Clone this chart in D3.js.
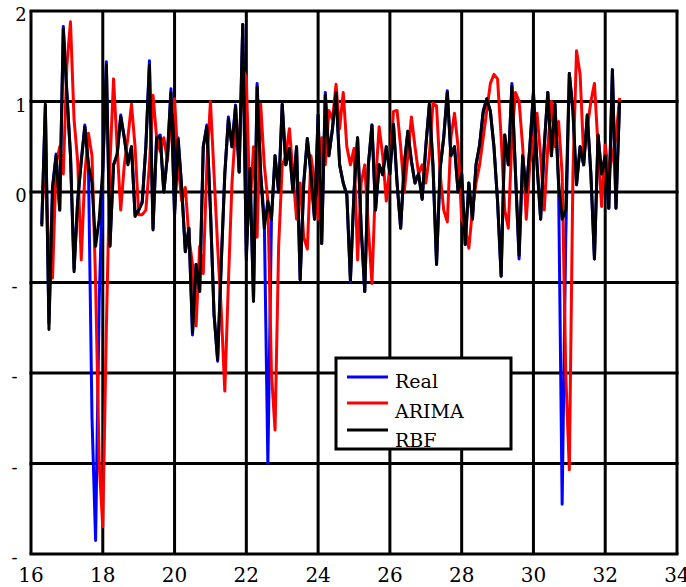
<!DOCTYPE html>
<html>
  <head>
    <meta charset="utf-8" />
    <script src="https://d3js.org/d3.v7.min.js" charset="utf-8"></script>
  </head>
  <body style="margin:0">
    <svg id="canvas" width="686" height="587"></svg>
    <script>
      // sample times: 16.3 .. 32.4, every 0.1
      var tStart = 16.3, tStep = 0.1, nPoints = 162;

      // measured values
      var realValues = [
        -0.35, 0.95, -1.45, 0.05, 0.42, -0.2, 1.83, 1.1, 0.42, -0.85,
        -0.1, 0.35, 0.74, 0.3, -2.5, -3.85, -1.2, 0.2, 1.44, -0.6,
        0.3, 0.4, 0.85, 0.6, 0.33, 0.5, -0.25, -0.2, -0.1, 0.5,
        1.45, -0.4, 0.6, 0.63, 0.0, 0.4, 1.14, -0.25, 0.6, 0.04,
        -0.66, -0.4, -1.58, -0.8, -1.1, 0.5, 0.74, -0.2, -1.35, -1.87,
        -0.8, 0.2, 0.83, 0.5, 0.96, 0.22, 1.85, -0.7, 0.26, -1.2,
        1.2, 0.2, -0.3, -3.0, -0.3, 0.4, 0.0, 0.97, 0.3, 0.48,
        0.0, 0.5, -0.97, 0.1, 0.59, 0.2, -0.3, 0.85, -0.57, 1.1,
        0.4, 0.7, 1.1, 0.3, 0.1, -0.03, -0.99, 0.0, 0.6, -0.4,
        -1.1, 0.3, 0.74, -0.2, 0.3, 0.19, 0.5, 0.2, 0.75, 0.1,
        -0.4, 0.3, 0.67, 0.34, 0.1, 0.2, -0.08, 0.5, 0.97, 0.3,
        -0.8, 0.26, 0.6, 1.12, 0.4, 0.5, 0.0, 0.2, -0.58, 0.1,
        -0.3, 0.3, 0.52, 0.9, 1.03, 0.89, 0.5, -0.1, -0.93, 0.63,
        0.3, 1.2, 0.2, -0.74, 0.4, 0.0, 0.5, 1.1, 0.3, -0.3,
        0.5, 1.1, 0.4, 0.97, 0.1, -3.45, -0.5, 1.31, 0.9, 0.08,
        0.5, 0.3, 0.85, 0.2, -0.74, 0.63, 0.2, 0.4, -0.18, 1.35,
        -0.18, 1.0
      ];

      // ARIMA forecast
      var arimaValues = [
        0.05, 0.1, -0.6, -0.95, 0.3, 0.5, 0.2, 1.4, 1.88, 0.8,
        0.34, -0.75, 0.2, 0.65, 0.4, -1.0, -3.0, -3.7, -1.5, 0.3,
        1.25, 0.5, -0.2, 0.3, 0.6, 0.97, 0.5, -0.25, -0.25, -0.2,
        0.3, 1.07, 0.6, 0.45, 0.6, 0.35, 0.8, 1.03, 0.3, -0.1,
        0.05, -0.5, -0.8, -1.48, -0.6, -0.9, 0.3, 1.0, 0.2, -0.6,
        -1.3, -2.2, -1.0, 0.1, 0.7, 0.5, 1.36, 1.27, -0.2, 0.5,
        -0.5, 0.97, 0.3, -0.1, -2.0, -2.63, -0.6, 0.3, 0.4, 0.7,
        0.2, -0.3, 0.1, -0.5, -0.63, 0.4, 0.1, -0.3, 0.6, 0.3,
        0.9, 0.8, 1.19, 0.7, 1.1, 0.5, 0.3, 0.48, -0.75, 0.1,
        0.3, -0.4, -1.01, 0.1, 0.72, 0.4, -0.1, 0.3, 0.89, 0.9,
        0.5, 0.0, 0.4, 0.83, 0.5, 0.2, 0.3, 0.1, 0.4, 0.98,
        0.95, 0.2, -0.2, -0.33, 0.6, 0.87, 0.5, -0.3, -0.4, -0.62,
        -0.2, 0.1, 0.3, 0.6, 0.9, 1.2, 1.3, 1.25, 0.6, -0.2,
        -0.4, 0.6, 1.1, 1.0, 0.5, -0.3, 0.3, 0.6, 0.87, 0.4,
        -0.2, 0.5, 1.0, 0.5, 0.78, 0.2, -2.0, -3.07, 0.2, 1.56,
        1.3, 0.4, 0.7, 1.0, 1.2, 0.5, -0.16, 0.52, 0.2, 0.4,
        0.6, 1.04
      ];

      // RBF network forecast
      var rbfValues = [
        -0.38, 0.97, -1.52, 0.05, 0.4, -0.2, 1.8, 1.08, 0.4, -0.88,
        -0.1, 0.33, 0.72, 0.3, 0.1, -0.6, -0.3, 0.25, 1.4, -0.6,
        0.3, 0.42, 0.83, 0.6, 0.3, 0.5, -0.27, -0.2, -0.12, 0.5,
        1.4, -0.42, 0.6, 0.6, 0.0, 0.4, 1.1, -0.25, 0.58, 0.04,
        -0.66, -0.4, -1.55, -0.8, -1.1, 0.5, 0.72, -0.2, -1.35, -1.85,
        -0.8, 0.2, 0.8, 0.5, 0.95, 0.22, 1.85, -0.75, 0.26, -1.21,
        1.16, 0.2, -0.4, -0.1, -0.3, 0.4, 0.0, 0.97, 0.3, 0.48,
        0.0, 0.5, -0.97, 0.1, 0.59, 0.2, -0.3, 0.85, -0.57, 1.07,
        0.4, 0.7, 1.1, 0.3, 0.1, -0.03, -0.97, 0.0, 0.6, -0.4,
        -1.1, 0.3, 0.74, -0.2, 0.3, 0.19, 0.5, 0.2, 0.75, 0.1,
        -0.4, 0.3, 0.67, 0.34, 0.1, 0.2, -0.08, 0.5, 0.97, 0.3,
        -0.8, 0.26, 0.6, 1.1, 0.4, 0.5, 0.0, 0.2, -0.58, 0.1,
        -0.3, 0.3, 0.52, 0.88, 1.03, 0.89, 0.5, -0.1, -0.93, 0.63,
        0.3, 1.17, 0.2, -0.7, 0.4, 0.0, 0.5, 1.1, 0.3, -0.3,
        0.5, 1.1, 0.4, 0.97, 0.1, -0.3, -0.2, 1.31, 0.9, 0.08,
        0.5, 0.3, 0.85, 0.2, -0.74, 0.63, 0.2, 0.4, -0.18, 1.35,
        -0.18, 1.0
      ];

      var xTicks = [16, 18, 20, 22, 24, 26, 28, 30, 32, 34];
      var yTicks = [2, 1, 0, -1, -2, -3, -4];
      // negative labels only show their minus sign in the original
      var yTickLabels = ["2", "1", "0", "-", "-", "-", "-"];

      var seriesNames = ["Real", "ARIMA", "RBF"];
      var seriesColors = ["#0000ff", "#ff0000", "#000000"];

      var serifFont = "'DejaVu Serif'";

      var times = d3.range(nPoints).map(function (i) {
        return +(tStart + i * tStep).toFixed(1);
      });

      var canvas = d3.select("#canvas");

      var x = d3.scaleLinear().domain([16, 34]).range([31, 677]);
      var y = d3.scaleLinear().domain([2, -4]).range([11, 554]);

      // grid (frame included)
      canvas
        .selectAll("line.v")
        .data(xTicks)
        .enter()
        .append("line")
        .attr("class", "v")
        .attr("x1", function (d) { return x(d); })
        .attr("x2", function (d) { return x(d); })
        .attr("y1", y(2))
        .attr("y2", y(-4))
        .attr("stroke", "#000")
        .attr("stroke-width", 3);
      canvas
        .selectAll("line.h")
        .data(yTicks)
        .enter()
        .append("line")
        .attr("class", "h")
        .attr("x1", x(16) - 1.5)
        .attr("x2", x(34) + 1.5)
        .attr("y1", function (d) { return y(d); })
        .attr("y2", function (d) { return y(d); })
        .attr("stroke", "#000")
        .attr("stroke-width", 3);

      // tick labels
      canvas
        .selectAll("text.xlab")
        .data(xTicks)
        .enter()
        .append("text")
        .attr("class", "xlab")
        .attr("x", function (d) { return x(d); })
        .attr("y", 582)
        .attr("text-anchor", "middle")
        .attr("font-size", 20)
        .style("font-family", serifFont)
        .text(function (d) { return d; });

      canvas
        .selectAll("text.ylab")
        .data(yTicks)
        .enter()
        .append("text")
        .attr("class", "ylab")
        .attr("x", function (d, i) { return yTickLabels[i] === "-" ? 14.5 : 21; })
        .attr("y", function (d) { return y(d) + 10; })
        .attr("text-anchor", "middle")
        .attr("font-size", 18)
        .style("font-family", serifFont)
        .text(function (d, i) { return yTickLabels[i]; });

      // series
      var allSeries = [realValues, arimaValues, rbfValues];
      var line = d3
        .line()
        .x(function (d, i) { return x(times[i]); })
        .y(function (d) { return y(d); });

      canvas
        .selectAll("path.series")
        .data(allSeries)
        .enter()
        .append("path")
        .attr("class", "series")
        .attr("d", line)
        .attr("fill", "none")
        .attr("stroke", function (d, i) { return seriesColors[i]; })
        .attr("stroke-width", 3)
        .attr("stroke-linejoin", "round");

      // legend
      canvas
        .append("rect")
        .attr("x", 336)
        .attr("y", 358)
        .attr("width", 175)
        .attr("height", 91)
        .attr("fill", "#fff")
        .attr("stroke", "#000")
        .attr("stroke-width", 3);

      var legendLineY = [377, 403, 430];
      var legendTextY = [388, 418, 447];
      canvas
        .selectAll("line.key")
        .data(seriesNames)
        .enter()
        .append("line")
        .attr("class", "key")
        .attr("x1", 347)
        .attr("x2", 388)
        .attr("y1", function (d, i) { return legendLineY[i]; })
        .attr("y2", function (d, i) { return legendLineY[i]; })
        .attr("stroke", function (d, i) { return seriesColors[i]; })
        .attr("stroke-width", 3);
      canvas
        .selectAll("text.key")
        .data(seriesNames)
        .enter()
        .append("text")
        .attr("class", "key")
        .attr("x", 395)
        .attr("y", function (d, i) { return legendTextY[i]; })
        .attr("font-size", 19)
        .style("font-family", serifFont)
        .text(function (d) { return d; });
    </script>
  </body>
</html>
